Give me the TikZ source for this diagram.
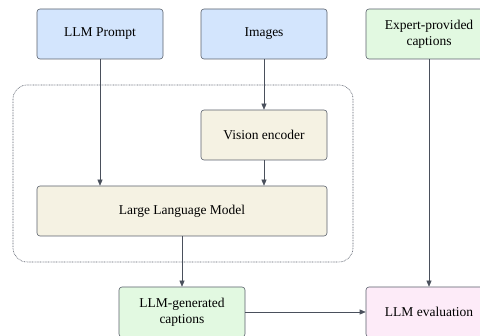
\documentclass[tikz,border=0pt]{standalone}
\usepackage{fontspec}
\setmainfont{Liberation Serif}
\usepackage{xcolor}
\usetikzlibrary{positioning,calc,arrows.meta}

\definecolor{inblue}{HTML}{D3E5FD}
\definecolor{modyellow}{HTML}{F5F2E3}
\definecolor{capgreen}{HTML}{E2F9E1}
\definecolor{evalpink}{HTML}{FDEBF8}
\definecolor{edgegray}{HTML}{5A606C}
\definecolor{linegray}{HTML}{4A505C}

\tikzset{
    block/.style={draw=edgegray, line width=0.6pt, rounded corners=3pt, minimum width=126pt, minimum height=50pt, align=center, font=\fontsize{13.5}{16}\selectfont, inner sep=2pt},
    flow/.style={-{Triangle[length=6pt,width=5pt]}, draw=linegray, line width=0.6pt}
}

\begin{document}
\begin{tikzpicture}[x=1pt,y=-1pt]
    \useasboundingbox (0,0) rectangle (480,336);

    % Inputs
    \node[block, fill=inblue] (prompt) at (100,34) {LLM Prompt};
    \node[block, fill=inblue] (images) at (264,34) {Images};
    \node[block, fill=capgreen] (expert) at (429,34) {Expert-provided\\captions};

    % Model
    \draw[edgegray, line width=0.6pt, dash pattern=on 0.8pt off 0.8pt, rounded corners=14pt] (13,85) rectangle (353,262);
    \node[block, fill=modyellow] (vision) at (264,135) {Vision encoder};
    \node[block, fill=modyellow, minimum width=290pt] (llm) at (182,211) {Large Language Model};

    % Outputs
    \node[block, fill=capgreen] (generated) at (182,312) {LLM-generated\\captions};
    \node[block, fill=evalpink] (evaluation) at (429,312) {LLM evaluation};

    \draw[flow] (prompt.south) -- (prompt.south |- llm.north);
    \draw[flow] (images) -- (vision);
    \draw[flow] (vision) -- (vision.south |- llm.north);
    \draw[flow] (llm.south -| generated.north) -- (generated);
    \draw[flow] (expert) -- (evaluation);
    \draw[flow] (generated) -- (evaluation);
\end{tikzpicture}
\end{document}
